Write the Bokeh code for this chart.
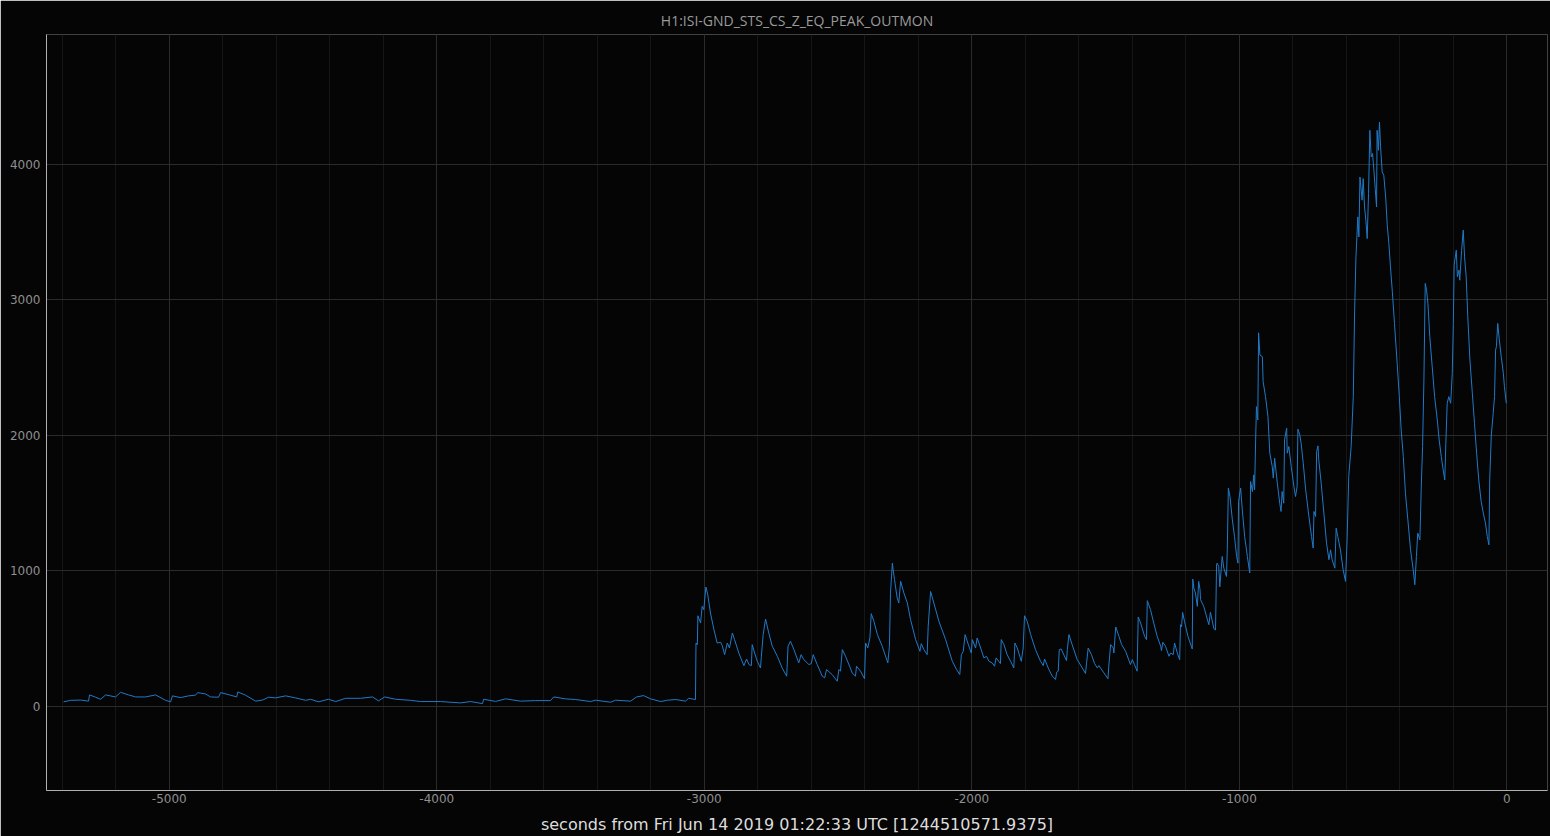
from bokeh.plotting import figure
from bokeh.models import Range1d, SingleIntervalTicker, ColumnDataSource, CustomJSTickFormatter
from bokeh.embed import file_html
from bokeh.resources import INLINE

TITLE = "H1:ISI-GND_STS_CS_Z_EQ_PEAK_OUTMON"
XLABEL = "seconds from Fri Jun 14 2019 01:22:33 UTC [1244510571.9375]"

# quiet period (seconds, counts)
quiet_t = [-5395, -5369, -5331, -5302, -5298, -5275, -5257, -5238, -5201, -5182,
           -5152, -5126, -5089, -5051, -5014, -4995, -4988, -4958, -4928, -4902,
           -4894, -4864, -4846, -4816, -4808, -4771, -4748, -4744, -4715, -4677,
           -4651, -4629, -4603, -4565, -4528, -4490, -4472, -4442, -4405, -4378,
           -4341, -4285, -4240, -4218, -4195, -4154, -4098, -4061, -3986, -3911,
           -3874, -3829, -3825, -3780, -3743, -3687, -3631, -3575, -3563, -3519,
           -3481, -3425, -3407, -3350, -3332, -3276, -3253, -3227, -3201, -3163,
           -3138, -3107, -3070, -3059, -3033]
quiet_v = [35, 46, 48, 40, 86, 69, 54, 86, 71, 105,
           86, 71, 71, 86, 46, 35, 79, 66, 79, 84,
           103, 93, 71, 69, 103, 84, 71, 108, 84, 40,
           48, 69, 64, 79, 64, 46, 54, 35, 54, 37,
           61, 61, 71, 42, 71, 54, 46, 37, 37, 27,
           37, 22, 54, 38, 57, 40, 44, 44, 71, 57,
           52, 37, 47, 32, 47, 40, 71, 81, 57, 37,
           47, 52, 40, 61, 52]

# moderate activity
mid_t = [-3031, -3026, -3024, -3014, -3008, -3002, -2994, -2987, -2977, -2964,
         -2952, -2939, -2933, -2924, -2914, -2906, -2895, -2887, -2871, -2852,
         -2842, -2833, -2824, -2821, -2812, -2802, -2790, -2787, -2780, -2771,
         -2759, -2746, -2727, -2709, -2692, -2687, -2678, -2665, -2647, -2638,
         -2628, -2609, -2600, -2593, -2578, -2559, -2550, -2543, -2522, -2503,
         -2497, -2491, -2484, -2472, -2447, -2435, -2431, -2416, -2401, -2397,
         -2389, -2381, -2376, -2366, -2353, -2335, -2314, -2308, -2304, -2297,
         -2294, -2289, -2279, -2273, -2266, -2254, -2241, -2229, -2210, -2194,
         -2189, -2179, -2167, -2163, -2154, -2142, -2123, -2098, -2073, -2057,
         -2045, -2039, -2032, -2025, -2015, -2002, -1998, -1986, -1980, -1967,
         -1955, -1945, -1936, -1924, -1915, -1909, -1893, -1890, -1880, -1868,
         -1855, -1843, -1839, -1830, -1815, -1808, -1803, -1793, -1780, -1762,
         -1743, -1733, -1728, -1712, -1699, -1687, -1683, -1677, -1673, -1666,
         -1646, -1643, -1637, -1625, -1606, -1587, -1575, -1571, -1565, -1553,
         -1541, -1531, -1525, -1506, -1491, -1488, -1481, -1471, -1469, -1462,
         -1450, -1440, -1425, -1407, -1400, -1392, -1382, -1378, -1369, -1354,
         -1347, -1344, -1332, -1320, -1307, -1294, -1291, -1286, -1276, -1263,
         -1257, -1247, -1242, -1232, -1223, -1220, -1216, -1212, -1205, -1192,
         -1176]
mid_v = [469, 457, 670, 616, 739, 715, 882, 825, 690, 567,
         469, 474, 450, 383, 469, 432, 543, 494, 395, 302,
         351, 310, 302, 457, 395, 334, 285, 363, 531, 646,
         543, 445, 371, 285, 224, 445, 482, 420, 322, 383,
         346, 310, 317, 383, 310, 224, 212, 273, 236, 187,
         273, 261, 420, 371, 248, 224, 298, 261, 205, 469,
         432, 506, 685, 629, 531, 445, 322, 445, 837, 1058,
         1009, 936, 801, 764, 924, 838, 764, 641, 494, 408,
         464, 420, 383, 592, 849, 764, 629, 494, 334, 273,
         236, 383, 408, 531, 469, 395, 494, 432, 506, 432,
         359, 371, 334, 322, 298, 359, 317, 494, 457, 383,
         334, 285, 469, 432, 334, 432, 670, 629, 531, 420,
         334, 302, 351, 273, 224, 200, 253, 261, 420, 425,
         339, 420, 531, 457, 346, 285, 244, 322, 432, 383,
         317, 285, 302, 248, 205, 298, 457, 432, 395, 587,
         518, 457, 408, 310, 346, 310, 261, 661, 616, 518,
         494, 781, 715, 616, 518, 445, 413, 474, 445, 371,
         395, 383, 469, 395, 346, 604, 587, 695, 629, 518,
         425]

# strong activity
high_t = [-1174, -1170, -1164, -1157, -1152, -1147, -1145, -1133, -1114, -1108,
          -1095, -1089, -1085, -1083, -1077, -1073, -1064, -1058, -1048, -1045,
          -1041, -1035, -1026, -1018, -1010, -1005, -1003, -995, -989, -980,
          -970, -961, -958, -951, -946, -943, -939, -936, -931, -928,
          -923, -914, -911, -902, -893, -886, -877, -873, -868, -858,
          -849, -844, -840, -834, -831, -823, -821, -815, -806, -796,
          -790, -784, -781, -774, -769, -761, -752, -740, -730, -724,
          -721, -715, -711, -706, -703, -694, -684, -674, -665, -659,
          -653, -643, -638, -632, -622, -612, -603, -597, -591, -582,
          -574, -569, -564, -557, -553, -549, -541, -537, -532, -527,
          -522, -517, -512, -507, -502, -497, -492, -487, -485, -480,
          -476, -472, -466, -460, -453, -447, -441, -435, -428, -420,
          -410, -402, -395, -387, -379, -370, -360, -350, -344, -338,
          -333, -325, -320, -315, -310, -305, -300, -295, -288, -279,
          -270, -260, -253, -245, -238, -232, -228, -223, -217, -210,
          -204, -200, -197, -189, -185, -179, -176, -169, -163, -158,
          -152, -146, -138, -129, -121, -113, -105, -96, -88, -80,
          -73, -67, -64, -58, -51, -46, -42, -39, -34, -28,
          -21, -13, -9, -2]
high_v = [940, 874, 837, 739, 923, 865, 788, 739, 604, 695,
          574, 565, 1046, 1058, 1034, 883, 1107, 1021, 960, 1156,
          1611, 1549, 1377, 1254, 1107, 1058, 1512, 1611, 1451, 1254,
          1107, 985, 1660, 1586, 1709, 1599, 1967, 2212, 2114, 2757,
          2593, 2581, 2396, 2286, 2139, 1869, 1771, 1685, 1832, 1648,
          1500, 1439, 1586, 1500, 1967, 2053, 1869, 1918, 1771, 1623,
          1549, 1623, 2046, 2004, 1943, 1795, 1599, 1402, 1254, 1169,
          1439, 1402, 1881, 1923, 1820, 1648, 1427, 1205, 1083, 1156,
          1083, 1021, 1316, 1254, 1156, 1010, 923, 1242, 1697, 1918,
          2286, 2924, 3317, 3612, 3464, 3906, 3735, 3894, 3685, 3587,
          3452, 3784, 4250, 4054, 4079, 3956, 3821, 3685, 4250, 4103,
          4311, 4128, 3943, 3919, 3759, 3550, 3415, 3243, 3059, 2826,
          2532, 2286, 2041, 1844, 1574, 1377, 1156, 1009, 899, 1107,
          1279, 1230, 1611, 1918, 2409, 3121, 3071, 2973, 2728, 2507,
          2286, 2114, 1967, 1844, 1746, 1672, 1943, 2237, 2286, 2237,
          2458, 2826, 3256, 3366, 3170, 3219, 3145, 3366, 3514, 3317,
          3170, 2875, 2556, 2311, 2090, 1869, 1672, 1512, 1427, 1353,
          1254, 1193, 1672, 2003, 2163, 2286, 2630, 2654, 2826, 2703,
          2581, 2458, 2360, 2237]

t = quiet_t + mid_t + high_t
v = quiet_v + mid_v + high_v
src = ColumnDataSource(data=dict(t=t, v=v))

BG = "#050505"

p = figure(width=1550, height=836, output_backend="svg", toolbar_location=None,
           x_range=Range1d(-5459, 152), y_range=Range1d(-619, 4957),
           title=TITLE, background_fill_color=BG, border_fill_color=BG,
           outline_line_color=None,
           min_border_left=46, min_border_right=3, min_border_top=34,
           min_border_bottom=45)

p.title.align = "center"
p.title.text_color = "#9a9a9a"
p.title.text_font = "Open Sans"
p.title.text_font_size = "14px"
p.title.text_font_style = "normal"
p.title.offset = 0
p.title.standoff = 9

p.line("t", "v", source=src, line_color="#2079c7", line_width=1)

p.xaxis.ticker = SingleIntervalTicker(interval=1000, num_minor_ticks=5)
p.yaxis.ticker = SingleIntervalTicker(interval=1000, num_minor_ticks=5)
p.xgrid.ticker = p.xaxis.ticker
p.ygrid.ticker = p.yaxis.ticker

fmt = CustomJSTickFormatter(code="return tick.toFixed(0);")
for ax in (p.xaxis, p.yaxis):
    ax.formatter = fmt
    ax.axis_line_color = "#b0b0b0"
    ax.axis_line_width = 1
    ax.major_tick_line_color = None
    ax.minor_tick_line_color = None
    ax.major_tick_out = 0
    ax.major_tick_in = 0
    ax.minor_tick_out = 0
    ax.minor_tick_in = 0
    ax.major_label_text_color = "#8f8f8f"
    ax.major_label_text_font = "DejaVu Sans"
    ax.major_label_text_font_size = "12px"

p.xaxis.major_label_standoff = 3
p.yaxis.major_label_standoff = 6
p.xaxis.axis_label = XLABEL
p.xaxis.axis_label_text_color = "#dddddd"
p.xaxis.axis_label_text_font = "DejaVu Sans"
p.xaxis.axis_label_text_font_size = "16px"
p.xaxis.axis_label_text_font_style = "normal"
p.xaxis.axis_label_standoff = 9

p.xgrid.grid_line_color = "#2b2b2b"
p.xgrid.minor_grid_line_color = "#161616"
p.ygrid.grid_line_color = "#2b2b2b"
p.ygrid.minor_grid_line_color = None

open("out.html", "w").write(file_html(p, INLINE))
